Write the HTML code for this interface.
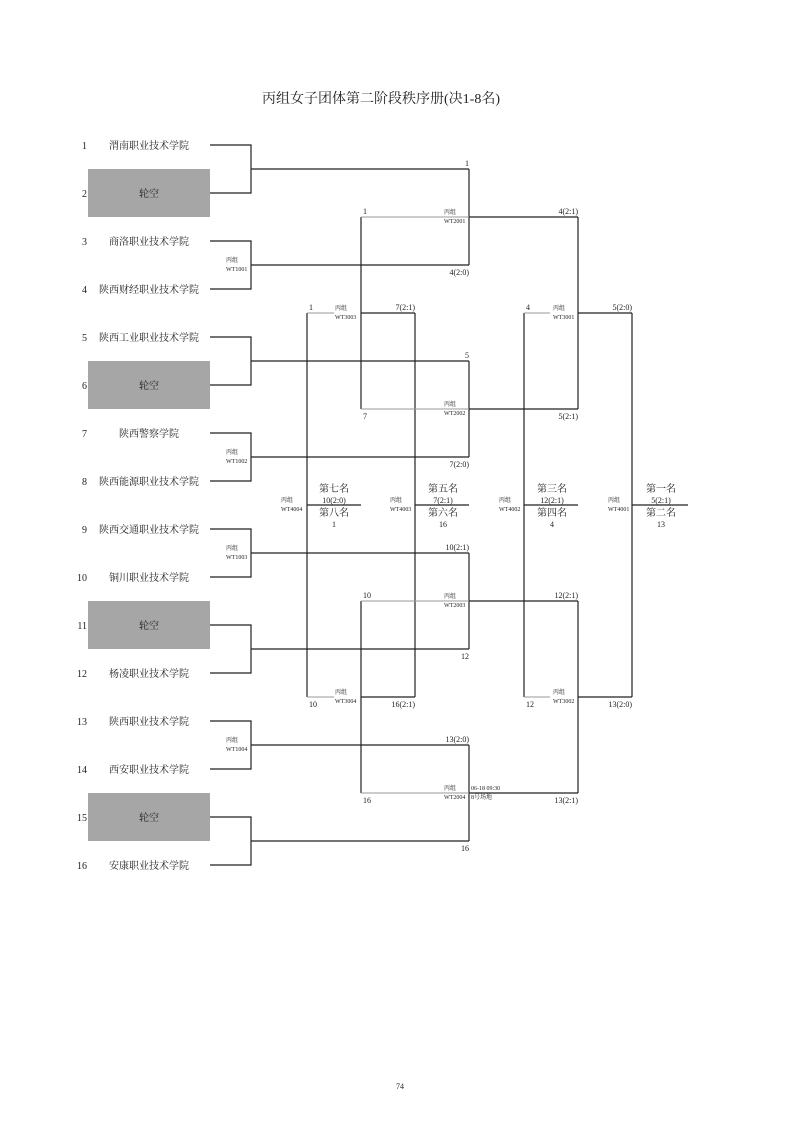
<!DOCTYPE html>
<html><head><meta charset="utf-8"><style>
html,body{margin:0;padding:0;background:#fff;}
svg{display:block;}
text{font-family:"Liberation Serif","Noto Serif CJK SC",serif;fill:#222;}
.n{font-size:10px;}
.s{font-size:6px;fill:#444;}
.l{font-size:8px;}
.b{font-size:10px;}
</style></head><body>
<svg width="800" height="1131" viewBox="0 0 800 1131" xmlns="http://www.w3.org/2000/svg">
<text x="381" y="103" text-anchor="middle" style="font-size:14px">丙组女子团体第二阶段秩序册(决1-8名)</text>

<g fill="#a6a6a6">
<rect x="88" y="169" width="122" height="48"/>
<rect x="88" y="361" width="122" height="48"/>
<rect x="88" y="601" width="122" height="48"/>
<rect x="88" y="793" width="122" height="48"/>
</g>

<g class="n">
<text x="87" y="149" text-anchor="end">1</text><text x="149" y="149" text-anchor="middle">渭南职业技术学院</text>
<text x="87" y="197" text-anchor="end">2</text><text x="149" y="197" text-anchor="middle">轮空</text>
<text x="87" y="245" text-anchor="end">3</text><text x="149" y="245" text-anchor="middle">商洛职业技术学院</text>
<text x="87" y="293" text-anchor="end">4</text><text x="149" y="293" text-anchor="middle">陕西财经职业技术学院</text>
<text x="87" y="341" text-anchor="end">5</text><text x="149" y="341" text-anchor="middle">陕西工业职业技术学院</text>
<text x="87" y="389" text-anchor="end">6</text><text x="149" y="389" text-anchor="middle">轮空</text>
<text x="87" y="437" text-anchor="end">7</text><text x="149" y="437" text-anchor="middle">陕西警察学院</text>
<text x="87" y="485" text-anchor="end">8</text><text x="149" y="485" text-anchor="middle">陕西能源职业技术学院</text>
<text x="87" y="533" text-anchor="end">9</text><text x="149" y="533" text-anchor="middle">陕西交通职业技术学院</text>
<text x="87" y="581" text-anchor="end">10</text><text x="149" y="581" text-anchor="middle">铜川职业技术学院</text>
<text x="87" y="629" text-anchor="end">11</text><text x="149" y="629" text-anchor="middle">轮空</text>
<text x="87" y="677" text-anchor="end">12</text><text x="149" y="677" text-anchor="middle">杨凌职业技术学院</text>
<text x="87" y="725" text-anchor="end">13</text><text x="149" y="725" text-anchor="middle">陕西职业技术学院</text>
<text x="87" y="773" text-anchor="end">14</text><text x="149" y="773" text-anchor="middle">西安职业技术学院</text>
<text x="87" y="821" text-anchor="end">15</text><text x="149" y="821" text-anchor="middle">轮空</text>
<text x="87" y="869" text-anchor="end">16</text><text x="149" y="869" text-anchor="middle">安康职业技术学院</text>
</g>

<g stroke="#222" stroke-width="1.2" fill="none">
<path d="M210 145H251V193H210M251 169H469"/>
<path d="M210 241H251V289H210M251 265H469"/>
<path d="M210 337H251V385H210M251 361H469"/>
<path d="M210 433H251V481H210M251 457H469"/>
<path d="M210 529H251V577H210M251 553H469"/>
<path d="M210 625H251V673H210M251 649H469"/>
<path d="M210 721H251V769H210M251 745H469"/>
<path d="M210 817H251V865H210M251 841H469"/>
<path d="M469 169V265M469 217H578"/>
<path d="M469 361V457M469 409H578"/>
<path d="M469 553V649M469 601H578"/>
<path d="M469 745V841M469 793H578"/>
<path d="M578 217V409M578 313H632"/>
<path d="M578 601V793M578 697H632"/>
<path d="M632 313V697M632 505H688"/>
<path d="M361 217V409M361 313H415"/>
<path d="M361 601V793M361 697H415"/>
<path d="M415 313V697M415 505H469"/>
<path d="M307 313V697M307 505H361"/>
<path d="M524 313V697M524 505H578"/>
</g>
<g stroke="#999" stroke-width="1" fill="none">
<path d="M361 217H469M361 409H469M361 601H469M361 793H469"/>
<path d="M307 313H334M307 697H334M524 313H550M524 697H550"/>
</g>

<g class="s">
<text x="226" y="262">丙组</text><text x="226" y="271">WT1001</text>
<text x="226" y="454">丙组</text><text x="226" y="463">WT1002</text>
<text x="226" y="550">丙组</text><text x="226" y="559">WT1003</text>
<text x="226" y="742">丙组</text><text x="226" y="751">WT1004</text>
<text x="444" y="214">丙组</text><text x="444" y="223">WT2001</text>
<text x="444" y="406">丙组</text><text x="444" y="415">WT2002</text>
<text x="444" y="598">丙组</text><text x="444" y="607">WT2003</text>
<text x="444" y="790">丙组</text><text x="444" y="799">WT2004</text>
<text x="335" y="310">丙组</text><text x="335" y="319">WT3003</text>
<text x="335" y="694">丙组</text><text x="335" y="703">WT3004</text>
<text x="553" y="310">丙组</text><text x="553" y="319">WT3001</text>
<text x="553" y="694">丙组</text><text x="553" y="703">WT3002</text>
<text x="281" y="502">丙组</text><text x="281" y="511">WT4004</text>
<text x="390" y="502">丙组</text><text x="390" y="511">WT4003</text>
<text x="499" y="502">丙组</text><text x="499" y="511">WT4002</text>
<text x="608" y="502">丙组</text><text x="608" y="511">WT4001</text>
<text x="471" y="790">06-18 09:30</text><text x="471" y="799">8号场地</text>
</g>

<g class="l">
<text x="469" y="166" text-anchor="end">1</text>
<text x="469" y="275" text-anchor="end">4(2:0)</text>
<text x="469" y="358" text-anchor="end">5</text>
<text x="469" y="467" text-anchor="end">7(2:0)</text>
<text x="469" y="550" text-anchor="end">10(2:1)</text>
<text x="469" y="659" text-anchor="end">12</text>
<text x="469" y="742" text-anchor="end">13(2:0)</text>
<text x="469" y="851" text-anchor="end">16</text>
<text x="363" y="214">1</text>
<text x="578" y="214" text-anchor="end">4(2:1)</text>
<text x="363" y="419">7</text>
<text x="578" y="419" text-anchor="end">5(2:1)</text>
<text x="363" y="598">10</text>
<text x="578" y="598" text-anchor="end">12(2:1)</text>
<text x="363" y="803">16</text>
<text x="578" y="803" text-anchor="end">13(2:1)</text>
<text x="309" y="310">1</text>
<text x="415" y="310" text-anchor="end">7(2:1)</text>
<text x="309" y="707">10</text>
<text x="415" y="707" text-anchor="end">16(2:1)</text>
<text x="526" y="310">4</text>
<text x="632" y="310" text-anchor="end">5(2:0)</text>
<text x="526" y="707">12</text>
<text x="632" y="707" text-anchor="end">13(2:0)</text>
</g>

<g>
<text class="b" x="334" y="492" text-anchor="middle">第七名</text>
<text class="l" x="334" y="503" text-anchor="middle">10(2:0)</text>
<text class="b" x="334" y="516" text-anchor="middle">第八名</text>
<text class="l" x="334" y="527" text-anchor="middle">1</text>
<text class="b" x="443" y="492" text-anchor="middle">第五名</text>
<text class="l" x="443" y="503" text-anchor="middle">7(2:1)</text>
<text class="b" x="443" y="516" text-anchor="middle">第六名</text>
<text class="l" x="443" y="527" text-anchor="middle">16</text>
<text class="b" x="552" y="492" text-anchor="middle">第三名</text>
<text class="l" x="552" y="503" text-anchor="middle">12(2:1)</text>
<text class="b" x="552" y="516" text-anchor="middle">第四名</text>
<text class="l" x="552" y="527" text-anchor="middle">4</text>
<text class="b" x="661" y="492" text-anchor="middle">第一名</text>
<text class="l" x="661" y="503" text-anchor="middle">5(2:1)</text>
<text class="b" x="661" y="516" text-anchor="middle">第二名</text>
<text class="l" x="661" y="527" text-anchor="middle">13</text>
</g>

<text x="400" y="1089" text-anchor="middle" style="font-size:8px">74</text>
</svg>
</body></html>
